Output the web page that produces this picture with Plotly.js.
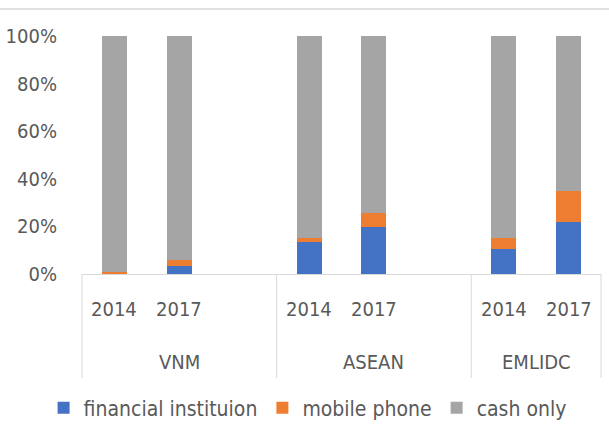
<!DOCTYPE html>
<html>
<head>
<meta charset="utf-8">
<script src="https://cdn.plot.ly/plotly-3.0.1.min.js"></script>
<style>html,body{margin:0;padding:0;background:#fff;}#chart{width:609px;height:436px;}</style>
</head>
<body>
<div id="chart"></div>
<script>
var groups = ['VNM', 'ASEAN', 'EMLIDC'];
var years = ['2014', '2017'];
var seriesNames = ['financial instituion', 'mobile phone', 'cash only'];
// values per group, [2014, 2017], in %
var financial = [[0, 3.2], [13.3, 19.7], [10.3, 21.8]];
var mobile = [[0.7, 2.5], [2.0, 5.8], [4.8, 13.2]];
var cashOnly = [[99.3, 94.3], [84.7, 74.5], [84.9, 65.0]];
var yTicks = [0, 20, 40, 60, 80, 100];

var colors = ['#4472C4', '#ED7D31', '#A5A5A5'];
var slotsPerGroup = 3;
var nSlots = slotsPerGroup * (groups.length - 1) + years.length;

function flatten(arr) {
  var xs = [], ys = [];
  arr.forEach(function (g, gi) {
    g.forEach(function (v, yi) { xs.push(gi * slotsPerGroup + yi); ys.push(v); });
  });
  return {x: xs, y: ys};
}

var data = [financial, mobile, cashOnly].map(function (s, i) {
  var f = flatten(s);
  return {
    type: 'bar', name: seriesNames[i], x: f.x, y: f.y,
    marker: {color: colors[i], line: {width: 0}},
    hoverinfo: 'skip'
  };
});

var fam = 'DejaVu Sans Condensed, Noto Sans, sans-serif';
var font = {family: fam, size: 20, color: '#595959'};
var legendFont = {family: fam, size: 21, color: '#595959'};
var plotH = 238, plotW = 519, mT = 36, mL = 82;
function py(pix) { return (mT + plotH - pix) / plotH; }

var annotations = [];
groups.forEach(function (g, gi) {
  years.forEach(function (yr, yi) {
    annotations.push({x: gi * slotsPerGroup + yi, xref: 'x', y: py(309), yref: 'paper',
      text: yr, showarrow: false, font: font, xanchor: 'center', yanchor: 'middle'});
  });
  var nInGroup = gi < groups.length - 1 ? slotsPerGroup : years.length;
  var start = gi * slotsPerGroup - 0.5;
  annotations.push({x: start + nInGroup / 2, xref: 'x', y: py(362), yref: 'paper',
    text: g, showarrow: false, font: font, xanchor: 'center', yanchor: 'middle'});
});

var shapes = [];
var seps = [0];
groups.forEach(function (g, gi) {
  var nInGroup = gi < groups.length - 1 ? slotsPerGroup : years.length;
  seps.push(seps[seps.length - 1] + nInGroup);
});
seps.forEach(function (s) {
  shapes.push({type: 'line', xref: 'paper', yref: 'paper', x0: s / nSlots, x1: s / nSlots,
    y0: 0, y1: py(378), line: {color: '#d9d9d9', width: 1}});
});
shapes.push({type: 'line', xref: 'paper', yref: 'paper', x0: -mL / plotW, x1: 1 + 8 / plotW,
  y0: py(9), y1: py(9), line: {color: '#d9d9d9', width: 1.5}});

var layout = {
  width: 609, height: 436,
  margin: {l: mL, r: 8, t: mT, b: 162},
  paper_bgcolor: '#fff', plot_bgcolor: '#fff',
  barmode: 'stack', bargap: 0.615,
  font: font,
  showlegend: true,
  legend: {orientation: 'h', x: -0.074, xanchor: 'left', y: py(408), yanchor: 'middle',
    font: legendFont, itemwidth: 30, traceorder: 'normal'},
  xaxis: {range: [-0.5, nSlots - 0.5], showticklabels: false, ticks: '', showgrid: false,
    zeroline: false, showline: true, linecolor: '#d9d9d9', linewidth: 1, fixedrange: true},
  yaxis: {range: [0, 100], tickvals: yTicks, ticktext: yTicks.map(function (v) { return v + '%'; }),
    showgrid: false, zeroline: false, showline: false, ticks: 'outside', ticklen: 20,
    tickcolor: 'rgba(0,0,0,0)', tickfont: font, fixedrange: true},
  annotations: annotations,
  shapes: shapes
};

Plotly.newPlot('chart', data, layout, {displayModeBar: false, staticPlot: true});
</script>
</body>
</html>
